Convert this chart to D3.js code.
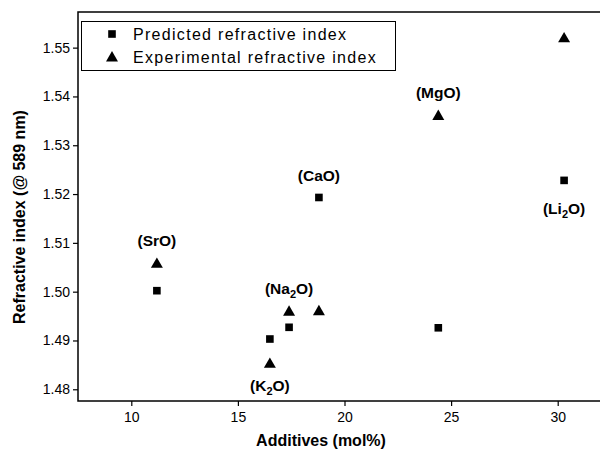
<!DOCTYPE html>
<html>
<head>
<meta charset="utf-8">
<script src="https://cdn.jsdelivr.net/npm/d3@7"></script>
<style>
  body { margin: 0; background: #fff; }
  text { font-family: Arial, "Liberation Sans", sans-serif; }
</style>
</head>
<body>
<script>
// additives and their mol%
var oxides = ["SrO", "K2O", "Na2O", "CaO", "MgO", "Li2O"];
var molPct = [11.2, 16.5, 17.4, 18.8, 24.4, 30.3];
// refractive index @ 589 nm
var predicted = [1.5002, 1.4903, 1.4927, 1.5193, 1.4926, 1.5228];
var experimental = [1.5058, 1.4853, 1.4960, 1.4961, 1.5361, 1.5520];
// which label goes where (above triangle / below triangle / above square / below square)
var labelAnchor = ["expAbove", "expBelow", "expAbove", "predAbove", "expAbove", "predBelow"];

var xTicks = [10, 15, 20, 25, 30];
var yTicks = [1.48, 1.49, 1.50, 1.51, 1.52, 1.53, 1.54, 1.55];

var margin = {top: 12, right: -11, bottom: 49, left: 78};
var width = 600, height = 450;

var svg = d3.select("body").append("svg")
  .attr("width", width).attr("height", height);

var x = d3.scaleLinear().domain([7.5, 32.5]).range([margin.left, width - margin.right]);
var y = d3.scaleLinear().domain([1.4776, 1.5573]).range([height - margin.bottom, margin.top]);

// frame
svg.append("rect")
  .attr("x", x(7.5)).attr("y", y(1.5573))
  .attr("width", x(32.5) - x(7.5)).attr("height", y(1.4776) - y(1.5573))
  .attr("fill", "none").attr("stroke", "#000").attr("stroke-width", 1.5);

// axes
var xAxis = svg.append("g").attr("transform", "translate(0," + y(1.4776) + ")");
xAxis.call(d3.axisBottom(x).tickValues(d3.range(7.5, 33, 2.5)).tickSize(3).tickFormat(""));
xAxis.call(d3.axisBottom(x).tickValues(xTicks).tickSize(5).tickPadding(6).tickFormat(d3.format("d")));
var yAxis = svg.append("g").attr("transform", "translate(" + x(7.5) + ",0)");
yAxis.call(d3.axisLeft(y).tickValues(d3.range(1.48, 1.556, 0.005)).tickSize(3).tickFormat(""));
yAxis.call(d3.axisLeft(y).tickValues(yTicks).tickSize(5).tickPadding(3).tickFormat(d3.format(".2f")));
svg.selectAll(".domain").remove();
svg.selectAll(".tick line").attr("stroke", "#000").attr("stroke-width", 1.2);
svg.selectAll(".tick text").attr("font-size", 14).attr("fill", "#000")
  .style("font-family", "Arial, 'Liberation Sans', sans-serif");

// axis titles
svg.append("text")
  .attr("x", 321).attr("y", 446)
  .attr("text-anchor", "middle").attr("font-size", 16).attr("font-weight", "bold")
  .text("Additives (mol%)");
svg.append("text")
  .attr("transform", "translate(25,217) rotate(-90)")
  .attr("text-anchor", "middle").attr("font-size", 16).attr("font-weight", "bold")
  .text("Refractive index (@ 589 nm)");

var sq = d3.symbol().type(d3.symbolSquare).size(58);
var tri = d3.symbol().type(d3.symbolTriangle).size(62);

svg.append("g").selectAll("path").data(molPct).join("path")
  .attr("d", sq)
  .attr("transform", (d, i) => "translate(" + x(d) + "," + y(predicted[i]) + ")");
svg.append("g").selectAll("path").data(molPct).join("path")
  .attr("d", tri)
  .attr("transform", (d, i) => "translate(" + x(d) + "," + (y(experimental[i]) + 1) + ")");

// point labels with subscripts
var labels = svg.append("g").selectAll("text").data(oxides).join("text")
  .attr("text-anchor", "middle").attr("font-size", 15.5).attr("font-weight", "bold")
  .attr("x", (d, i) => x(molPct[i]))
  .attr("y", function(d, i) {
    var a = labelAnchor[i];
    if (a == "expAbove") return y(experimental[i]) - 17;
    if (a == "expBelow") return y(experimental[i]) + 28;
    if (a == "predAbove") return y(predicted[i]) - 16;
    return y(predicted[i]) + 34;
  });
labels.each(function(d) {
  var t = d3.select(this);
  var m = d.match(/^([A-Za-z]+?)(\d?)(O)$/);
  t.append("tspan").text("(" + m[1]);
  if (m[2]) {
    t.append("tspan").attr("font-size", 11).attr("dy", 4).text(m[2]);
    t.append("tspan").attr("dy", -4).text(m[3] + ")");
  } else {
    t.append("tspan").text(m[3] + ")");
  }
});

// legend
var legend = svg.append("g");
legend.append("rect")
  .attr("x", 81.5).attr("y", 21.5).attr("width", 314).attr("height", 49)
  .attr("fill", "#fff").attr("stroke", "#000").attr("stroke-width", 1);
var legendItems = [{sym: sq, label: "Predicted refractive index"},
                   {sym: tri, label: "Experimental refractive index"}];
legendItems.forEach(function(it, i) {
  var cy = 34 + i * 23;
  legend.append("path").attr("d", it.sym).attr("transform", "translate(112," + (cy + (i ? 1 : 0)) + ")");
  legend.append("text").attr("x", 133).attr("y", cy + 6)
    .attr("font-size", 16).style("letter-spacing", "1.3px")
    .text(it.label);
});
</script>
</body>
</html>
